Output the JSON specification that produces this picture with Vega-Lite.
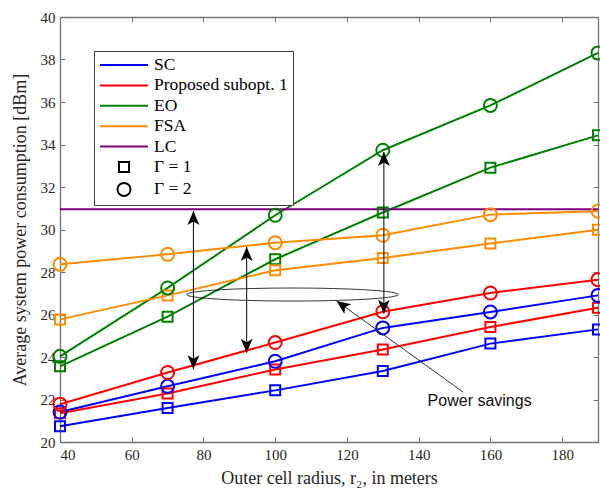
{
  "$schema": "https://vega.github.io/schema/vega-lite/v6.json",
  "width": 538,
  "height": 425,
  "autosize": {"type": "none"},
  "padding": {"left": 60, "top": 17, "right": 2, "bottom": 53},
  "background": "white",
  "config": {
    "view": {"stroke": null},
    "axis": {
      "domainColor": "#737373",
      "domainWidth": 1.3,
      "tickColor": "#737373",
      "tickSize": -5,
      "tickWidth": 1,
      "offset": 0,
      "labelFont": "Liberation Serif",
      "labelFontSize": 15,
      "labelColor": "#262626",
      "labelPadding": 10,
      "titleFont": "Liberation Serif",
      "titleFontSize": 18,
      "titleFontWeight": "normal",
      "titleColor": "#262626",
      "grid": false
    }
  },
  "datasets": {
    "perf": [
      {"series": "SC", "gamma": 1, "r": 40, "p": 20.74},
      {"series": "SC", "gamma": 1, "r": 70, "p": 21.6},
      {"series": "SC", "gamma": 1, "r": 100, "p": 22.43},
      {"series": "SC", "gamma": 1, "r": 130, "p": 23.34},
      {"series": "SC", "gamma": 1, "r": 160, "p": 24.63},
      {"series": "SC", "gamma": 1, "r": 190, "p": 25.3},
      {"series": "SC", "gamma": 2, "r": 40, "p": 21.41},
      {"series": "SC", "gamma": 2, "r": 70, "p": 22.62},
      {"series": "SC", "gamma": 2, "r": 100, "p": 23.8},
      {"series": "SC", "gamma": 2, "r": 130, "p": 25.37},
      {"series": "SC", "gamma": 2, "r": 160, "p": 26.12},
      {"series": "SC", "gamma": 2, "r": 190, "p": 26.9},
      {"series": "Proposed subopt. 1", "gamma": 1, "r": 40, "p": 21.35},
      {"series": "Proposed subopt. 1", "gamma": 1, "r": 70, "p": 22.28},
      {"series": "Proposed subopt. 1", "gamma": 1, "r": 100, "p": 23.41},
      {"series": "Proposed subopt. 1", "gamma": 1, "r": 130, "p": 24.35},
      {"series": "Proposed subopt. 1", "gamma": 1, "r": 160, "p": 25.41},
      {"series": "Proposed subopt. 1", "gamma": 1, "r": 190, "p": 26.32},
      {"series": "Proposed subopt. 1", "gamma": 2, "r": 40, "p": 21.78},
      {"series": "Proposed subopt. 1", "gamma": 2, "r": 70, "p": 23.27},
      {"series": "Proposed subopt. 1", "gamma": 2, "r": 100, "p": 24.68},
      {"series": "Proposed subopt. 1", "gamma": 2, "r": 130, "p": 26.13},
      {"series": "Proposed subopt. 1", "gamma": 2, "r": 160, "p": 27.01},
      {"series": "Proposed subopt. 1", "gamma": 2, "r": 190, "p": 27.64},
      {"series": "EO", "gamma": 1, "r": 40, "p": 23.56},
      {"series": "EO", "gamma": 1, "r": 70, "p": 25.9},
      {"series": "EO", "gamma": 1, "r": 100, "p": 28.6},
      {"series": "EO", "gamma": 1, "r": 130, "p": 30.8},
      {"series": "EO", "gamma": 1, "r": 160, "p": 32.91},
      {"series": "EO", "gamma": 1, "r": 190, "p": 34.43},
      {"series": "EO", "gamma": 2, "r": 40, "p": 24.03},
      {"series": "EO", "gamma": 2, "r": 70, "p": 27.25},
      {"series": "EO", "gamma": 2, "r": 100, "p": 30.67},
      {"series": "EO", "gamma": 2, "r": 130, "p": 33.73},
      {"series": "EO", "gamma": 2, "r": 160, "p": 35.84},
      {"series": "EO", "gamma": 2, "r": 190, "p": 38.31},
      {"series": "FSA", "gamma": 1, "r": 40, "p": 25.77},
      {"series": "FSA", "gamma": 1, "r": 70, "p": 26.9},
      {"series": "FSA", "gamma": 1, "r": 100, "p": 28.08},
      {"series": "FSA", "gamma": 1, "r": 130, "p": 28.66},
      {"series": "FSA", "gamma": 1, "r": 160, "p": 29.34},
      {"series": "FSA", "gamma": 1, "r": 190, "p": 29.99},
      {"series": "FSA", "gamma": 2, "r": 40, "p": 28.36},
      {"series": "FSA", "gamma": 2, "r": 70, "p": 28.83},
      {"series": "FSA", "gamma": 2, "r": 100, "p": 29.38},
      {"series": "FSA", "gamma": 2, "r": 130, "p": 29.73},
      {"series": "FSA", "gamma": 2, "r": 160, "p": 30.7},
      {"series": "FSA", "gamma": 2, "r": 190, "p": 30.86},
      {"series": "LC", "gamma": 0, "r": 40, "p": 30.95},
      {"series": "LC", "gamma": 0, "r": 190, "p": 30.95}
    ],
    "arrows": [
      {"r": 77.2, "p": 30.87, "p2": 23.42},
      {"r": 92.05, "p": 29.18, "p2": 24.2},
      {"r": 130.3, "p": 33.65, "p2": 26.04}
    ],
    "ellipse": [{"r": 104.8, "p": 26.94}],
    "pointer": [{"r": 152.4, "p": 22.35, "r2": 117.1, "p2": 26.64}],
    "note": [{"r": 157.0, "p": 21.93, "label": "Power savings"}],
    "legendEntries": [
      {"entry": "SC"},
      {"entry": "Proposed subopt. 1"},
      {"entry": "EO"},
      {"entry": "FSA"},
      {"entry": "LC"},
      {"entry": "Γ = 1"},
      {"entry": "Γ = 2"}
    ]
  },
  "layer": [
    {
      "data": {"name": "perf"},
      "mark": {"type": "line", "strokeWidth": 2},
      "encoding": {
        "x": {
          "field": "r", "type": "quantitative",
          "scale": {"domain": [40, 190], "nice": false, "zero": false},
          "axis": {"orient": "bottom", "offset": 0, "values": [40, 60, 80, 100, 120, 140, 160, 180], "title": "Outer cell radius, r₂, in meters", "titlePadding": 7}
        },
        "y": {
          "field": "p", "type": "quantitative",
          "scale": {"domain": [20, 40], "nice": false, "zero": false},
          "axis": {"orient": "left", "offset": 0, "values": [20, 22, 24, 26, 28, 30, 32, 34, 36, 38, 40], "title": "Average system power consumption [dBm]", "titlePadding": 11}
        },
        "color": {
          "field": "series", "type": "nominal",
          "scale": {"domain": ["SC", "Proposed subopt. 1", "EO", "FSA", "LC"], "range": ["#0000FF", "#FF0000", "#008000", "#FF8C00", "#7E0080"]},
          "legend": null
        },
        "detail": {"field": "gamma", "type": "nominal"}
      }
    },
    {
      "data": {"name": "perf"},
      "transform": [{"filter": "datum.gamma === 1"}],
      "mark": {"type": "point", "shape": "square", "filled": false, "size": 100, "strokeWidth": 2, "opacity": 1},
      "encoding": {
        "x": {"field": "r", "type": "quantitative", "axis": null},
        "y": {"field": "p", "type": "quantitative", "axis": null},
        "color": {
          "field": "series", "type": "nominal",
          "scale": {"domain": ["SC", "Proposed subopt. 1", "EO", "FSA", "LC"], "range": ["#0000FF", "#FF0000", "#008000", "#FF8C00", "#7E0080"]},
          "legend": null
        }
      }
    },
    {
      "data": {"name": "perf"},
      "transform": [{"filter": "datum.gamma === 2"}],
      "mark": {"type": "point", "shape": "circle", "filled": false, "size": 169, "strokeWidth": 2, "opacity": 1},
      "encoding": {
        "x": {"field": "r", "type": "quantitative", "axis": null},
        "y": {"field": "p", "type": "quantitative", "axis": null},
        "color": {
          "field": "series", "type": "nominal",
          "scale": {"domain": ["SC", "Proposed subopt. 1", "EO", "FSA", "LC"], "range": ["#0000FF", "#FF0000", "#008000", "#FF8C00", "#7E0080"]},
          "legend": null
        }
      }
    },
    {
      "data": {"name": "arrows"},
      "mark": {"type": "rule", "color": "#000000", "strokeWidth": 1},
      "encoding": {
        "x": {"field": "r", "type": "quantitative", "axis": null},
        "y": {"field": "p", "type": "quantitative", "axis": null},
        "y2": {"field": "p2"}
      }
    },
    {
      "data": {"name": "arrows"},
      "mark": {"type": "point", "shape": "M 0 0 L 0.85 2 L 0 1.5 L -0.85 2 Z", "filled": true, "color": "#000000", "size": 196, "opacity": 1, "strokeWidth": 0},
      "encoding": {
        "x": {"field": "r", "type": "quantitative", "axis": null},
        "y": {"field": "p", "type": "quantitative", "axis": null}
      }
    },
    {
      "data": {"name": "arrows"},
      "mark": {"type": "point", "shape": "M 0 0 L 0.85 -2 L 0 -1.5 L -0.85 -2 Z", "filled": true, "color": "#000000", "size": 196, "opacity": 1, "strokeWidth": 0},
      "encoding": {
        "x": {"field": "r", "type": "quantitative", "axis": null},
        "y": {"field": "p2", "type": "quantitative", "axis": null}
      }
    },
    {
      "data": {"name": "ellipse"},
      "mark": {"type": "point", "shape": "M -1 0 A 1 0.0614 0 1 0 1 0 A 1 0.0614 0 1 0 -1 0 Z", "filled": false, "color": "#000000", "size": 44775, "strokeWidth": 0.8, "opacity": 1},
      "encoding": {
        "x": {"field": "r", "type": "quantitative", "axis": null},
        "y": {"field": "p", "type": "quantitative", "axis": null}
      }
    },
    {
      "data": {"name": "pointer"},
      "mark": {"type": "rule", "color": "#000000", "strokeWidth": 0.8},
      "encoding": {
        "x": {"field": "r", "type": "quantitative", "axis": {"orient": "top", "offset": 0, "values": [40, 60, 80, 100, 120, 140, 160, 180], "labels": false, "title": null}},
        "y": {"field": "p", "type": "quantitative", "axis": {"orient": "right", "offset": 0, "values": [20, 22, 24, 26, 28, 30, 32, 34, 36, 38, 40], "labels": false, "title": null}},
        "x2": {"field": "r2"},
        "y2": {"field": "p2"}
      }
    },
    {
      "data": {"name": "pointer"},
      "mark": {"type": "point", "shape": "M 0 0 L 0.85 2 L 0 1.5 L -0.85 2 Z", "filled": true, "color": "#000000", "size": 196, "opacity": 1, "strokeWidth": 0, "angle": 305.7},
      "encoding": {
        "x": {"field": "r2", "type": "quantitative", "axis": null},
        "y": {"field": "p2", "type": "quantitative", "axis": null}
      }
    },
    {
      "data": {"name": "note"},
      "mark": {"type": "text", "font": "Liberation Sans", "fontSize": 16, "color": "#111111", "align": "center", "baseline": "middle"},
      "encoding": {
        "x": {"field": "r", "type": "quantitative", "axis": null},
        "y": {"field": "p", "type": "quantitative", "axis": null},
        "text": {"field": "label"}
      }
    },
    {
      "data": {"name": "legendEntries"},
      "mark": {"type": "point", "filled": false, "opacity": 0, "size": 256, "strokeWidth": 2},
      "encoding": {
        "color": {
          "field": "entry", "type": "nominal",
          "scale": {
            "domain": ["SC", "Proposed subopt. 1", "EO", "FSA", "LC", "Γ = 1", "Γ = 2"],
            "range": ["#0000FF", "#FF0000", "#008000", "#FF8C00", "#7E0080", "#000000", "#000000"]
          },
          "legend": {
            "title": null, "orient": "none", "legendX": 34, "legendY": 34,
            "padding": 5, "strokeColor": "#404040", "fillColor": "#FFFFFF",
            "labelFont": "Liberation Serif", "labelFontSize": 17.5, "labelColor": "#000000", "labelLimit": 400,
            "symbolSize": 256, "symbolStrokeWidth": 2, "rowPadding": 2.4, "labelOffset": 37
          }
        },
        "shape": {
          "field": "entry", "type": "nominal",
          "scale": {
            "domain": ["SC", "Proposed subopt. 1", "EO", "FSA", "LC", "Γ = 1", "Γ = 2"],
            "range": [
              "M -1 0 L 5 0", "M -1 0 L 5 0", "M -1 0 L 5 0", "M -1 0 L 5 0", "M -1 0 L 5 0",
              "M 1.375 -0.625 L 2.625 -0.625 L 2.625 0.625 L 1.375 0.625 Z",
              "M 1.1875 0 A 0.8125 0.8125 0 1 0 2.8125 0 A 0.8125 0.8125 0 1 0 1.1875 0 Z"
            ]
          },
          "legend": {
            "title": null, "orient": "none", "legendX": 34, "legendY": 34,
            "padding": 5, "strokeColor": "#404040", "fillColor": "#FFFFFF",
            "labelFont": "Liberation Serif", "labelFontSize": 17.5, "labelColor": "#000000", "labelLimit": 400,
            "symbolSize": 256, "symbolStrokeWidth": 2, "rowPadding": 2.4, "labelOffset": 37
          }
        }
      }
    }
  ],
  "resolve": {
    "scale": {"color": "independent", "shape": "independent"},
    "axis": {"x": "independent", "y": "independent"}
  }
}
